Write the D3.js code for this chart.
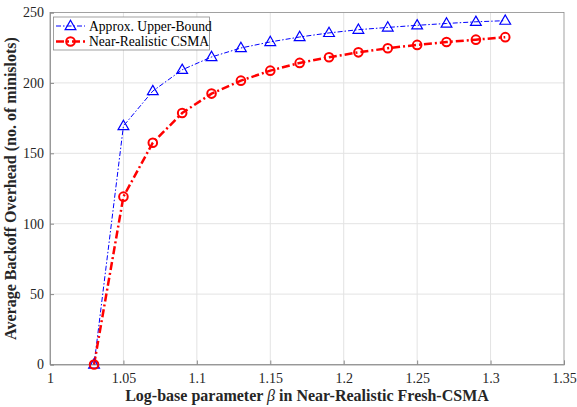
<!DOCTYPE html>
<html><head><meta charset="utf-8">
<script src="https://cdn.jsdelivr.net/npm/d3@7"></script>
<style>body{margin:0;background:#fff}</style>
</head><body>
<svg id="c" width="577" height="407"></svg>
<script>
const betas = [1.03,1.05,1.07,1.09,1.11,1.13,1.15,1.17,1.19,1.21,1.23,1.25,1.27,1.29,1.31];
const upperBound = [0,169.4,194.2,209.3,218.4,224.8,229.1,232.6,235.5,237.8,239.4,240.9,242.2,243.4,244.2];
const nearRealistic = [0,119.2,157.5,178.6,192.4,201.6,208.7,214.2,218.2,221.7,224.6,227.0,229.0,230.7,232.5];
const xTicks = [1,1.05,1.1,1.15,1.2,1.25,1.3,1.35];
const yTicks = [0,50,100,150,200,250];
const seriesNames = ["Approx. Upper-Bound","Near-Realistic CSMA"];

const svg = d3.select("#c");
const L=50,R=564,T=12.5,B=364.5;
const x = d3.scaleLinear().domain([1,1.35]).range([L,R]);
const y = d3.scaleLinear().domain([0,250]).range([B,T]);
const font = "'Liberation Serif','Times New Roman',serif";
const axisCol = "#262626";

// grid
const g = svg.append("g");
g.selectAll(".vg").data(xTicks.slice(1,-1)).enter().append("line")
 .attr("x1",d=>x(d)).attr("x2",d=>x(d)).attr("y1",T).attr("y2",B)
 .attr("stroke","#e3e3e3").attr("stroke-width",1);
g.selectAll(".hg").data(yTicks.slice(1,-1)).enter().append("line")
 .attr("y1",d=>y(d)).attr("y2",d=>y(d)).attr("x1",L).attr("x2",R)
 .attr("stroke","#e3e3e3").attr("stroke-width",1);

// box
svg.append("rect").attr("x",L).attr("y",T).attr("width",R-L).attr("height",B-T)
 .attr("fill","none").attr("stroke","#8a8a8a").attr("stroke-width",0.8);

// axes
const xa = svg.append("g").attr("transform",`translate(0,${B})`)
 .call(d3.axisBottom(x).tickValues(xTicks).tickSize(-4).tickPadding(10).tickFormat(d=>String(+d.toFixed(2))));
const ya = svg.append("g").attr("transform",`translate(${L},0)`)
 .call(d3.axisLeft(y).tickValues(yTicks).tickSize(-4).tickPadding(6));
[xa,ya].forEach(a=>{
  a.select(".domain").attr("stroke","#8a8a8a").attr("stroke-width",0.8);
  a.selectAll(".tick line").attr("stroke","#8a8a8a");
  a.selectAll("text").attr("font-family",font).attr("font-size",14).attr("fill",axisCol);
});
xa.selectAll("text").attr("dy","0.6em");

// lines
const ub = betas.map((b,i)=>({x:b,y:upperBound[i]}));
const nr = betas.map((b,i)=>({x:b,y:nearRealistic[i]}));
const line = d3.line().x(d=>x(d.x)).y(d=>y(d.y));
svg.append("path").datum(ub).attr("d",line).attr("fill","none")
 .attr("stroke","#0000ff").attr("stroke-width",1).attr("stroke-dasharray","5,2,1.5,2");
svg.append("path").datum(nr).attr("d",line).attr("fill","none")
 .attr("stroke","#ff0000").attr("stroke-width",2.5).attr("stroke-dasharray","8,3,2,3");

const tri = d3.symbol().type(d3.symbolTriangle).size(50);
svg.selectAll(".tri").data(ub).enter().append("path")
 .attr("d",tri).attr("transform",d=>`translate(${x(d.x)},${y(d.y)+0.5})`)
 .attr("fill","none").attr("stroke","#0000ff").attr("stroke-width",1.2);
svg.selectAll(".cir").data(nr).enter().append("circle")
 .attr("cx",d=>x(d.x)).attr("cy",d=>y(d.y)).attr("r",4.3)
 .attr("fill","none").attr("stroke","#ff0000").attr("stroke-width",2);

// legend
const lg = svg.append("g");
lg.append("rect").attr("x",53.5).attr("y",17).attr("width",156).attr("height",33)
 .attr("fill","#fff").attr("stroke","#8a8a8a").attr("stroke-width",0.8);
const ly=[26,41.5];
lg.append("line").attr("x1",56).attr("x2",85).attr("y1",ly[0]).attr("y2",ly[0])
 .attr("stroke","#0000ff").attr("stroke-width",1).attr("stroke-dasharray","5,2,1.5,2");
lg.append("path").attr("d",tri).attr("transform",`translate(70.5,${ly[0]+0.5})`)
 .attr("fill","none").attr("stroke","#0000ff").attr("stroke-width",1.2);
lg.append("line").attr("x1",56).attr("x2",85).attr("y1",ly[1]).attr("y2",ly[1])
 .attr("stroke","#ff0000").attr("stroke-width",2.5).attr("stroke-dasharray","8,3,2,3");
lg.append("circle").attr("cx",70.5).attr("cy",ly[1]).attr("r",4.3)
 .attr("fill","none").attr("stroke","#ff0000").attr("stroke-width",2);
seriesNames.forEach((n,i)=>{
  lg.append("text").attr("x",89).attr("y",ly[i]).attr("dy","0.35em")
   .attr("font-family",font).attr("font-size",13.6).attr("fill","#000").text(n);
});

// axis labels
svg.append("text").attr("x",(L+R)/2).attr("y",401).attr("text-anchor","middle")
 .attr("font-family",font).attr("font-size",16).attr("font-weight","bold").attr("fill",axisCol)
 .html('Log-base parameter <tspan font-style="italic" font-weight="normal">β</tspan> in Near-Realistic Fresh-CSMA');
svg.append("text").attr("transform",`translate(16,${(T+B)/2}) rotate(-90)`).attr("text-anchor","middle")
 .attr("font-family",font).attr("font-size",16).attr("font-weight","bold").attr("fill",axisCol)
 .text("Average Backoff Overhead (no. of minislots)");
</script>
</body></html>
